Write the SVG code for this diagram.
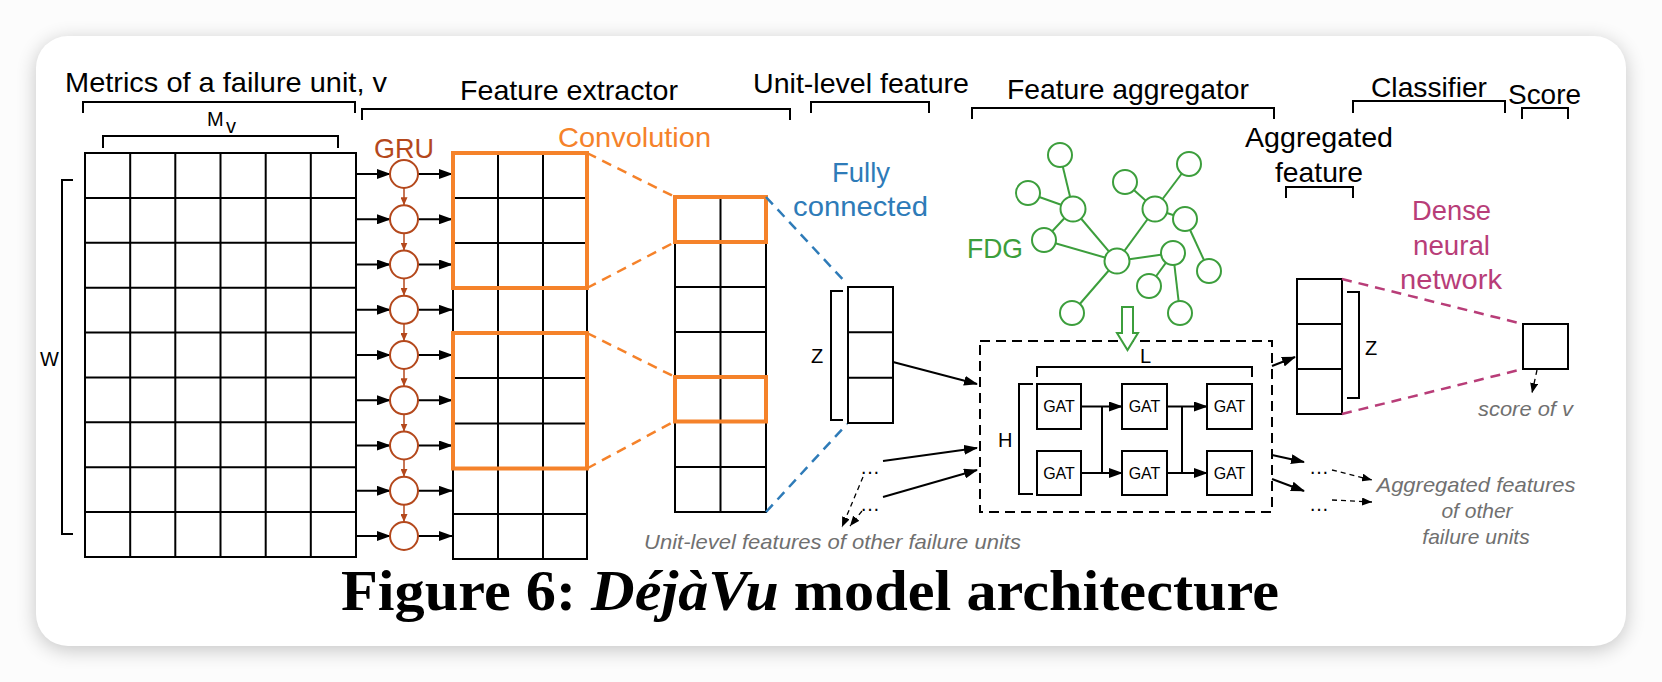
<svg xmlns="http://www.w3.org/2000/svg" width="1662" height="682" viewBox="0 0 1662 682">
<style>
.lbl{font-family:"Liberation Sans",Arial,sans-serif;font-size:28px;fill:#000}
.sm{font-family:"Liberation Sans",Arial,sans-serif;font-size:20px;fill:#000}
.gat{font-family:"Liberation Sans",Arial,sans-serif;font-size:16px;fill:#000;text-anchor:middle}
.note{font-family:"Liberation Sans",Arial,sans-serif;font-size:21px;font-style:italic;fill:#707070}
.cap{font-family:"Liberation Serif","Times New Roman",serif;font-size:57px;font-weight:bold;fill:#000}
.br{fill:none;stroke:#000;stroke-width:2}
.grid{fill:none;stroke:#000;stroke-width:2}
.conn{fill:none;stroke:#000;stroke-width:2}
.gru{fill:#fff;stroke:#b4481c;stroke-width:2}
.fdg{fill:#fff;stroke:#3c9e3c;stroke-width:2}
.fdge{stroke:#3c9e3c;stroke-width:2}
.odash{stroke:#f5822a;stroke-width:2.5;stroke-dasharray:10 7;fill:none}
.bdash{stroke:#2e7bb8;stroke-width:2.5;stroke-dasharray:10 7;fill:none}
.mdash{stroke:#b83d78;stroke-width:2.5;stroke-dasharray:10 7;fill:none}
.kdash{stroke:#000;stroke-width:1.3;stroke-dasharray:5 4;fill:none}
</style>
<defs>
<filter id="sh" x="-5%" y="-10%" width="110%" height="120%">
<feGaussianBlur stdDeviation="10"/>
</filter>
<marker id="ak" markerUnits="userSpaceOnUse" markerWidth="14" markerHeight="10" refX="13" refY="5" orient="auto"><path d="M0,0 L14,5 L0,10 z" fill="#000"/></marker>
<marker id="ab" markerUnits="userSpaceOnUse" markerWidth="8" markerHeight="7" refX="8" refY="3.5" orient="auto"><path d="M0,0 L8,3.5 L0,7 z" fill="#b4481c"/></marker>
<marker id="as" markerUnits="userSpaceOnUse" markerWidth="10" markerHeight="8" refX="10" refY="4" orient="auto"><path d="M0,0 L10,4 L0,8 z" fill="#000"/></marker>
</defs>
<rect x="0" y="0" width="1662" height="682" fill="#fcfcfc"/>
<rect x="36" y="40" width="1590" height="610" rx="32" fill="#000" opacity="0.22" filter="url(#sh)"/>
<rect x="36" y="36" width="1590" height="610" rx="32" fill="#fff"/>

<g id="headers">
<text class="lbl" x="65" y="92" textLength="322" lengthAdjust="spacingAndGlyphs">Metrics of a failure unit, v</text>
<path class="br" d="M83,113 V102 H355 V113"/>
<text class="lbl" x="460" y="100" textLength="218" lengthAdjust="spacingAndGlyphs">Feature extractor</text>
<path class="br" d="M362,120 V109 H790 V120"/>
<text class="lbl" x="753" y="93" textLength="216" lengthAdjust="spacingAndGlyphs">Unit-level feature</text>
<path class="br" d="M811,113 V102 H929 V113"/>
<text class="lbl" x="1007" y="99" textLength="242" lengthAdjust="spacingAndGlyphs">Feature aggregator</text>
<path class="br" d="M972,119 V108 H1274 V119"/>
<text class="lbl" x="1371" y="97" textLength="116" lengthAdjust="spacingAndGlyphs">Classifier</text>
<path class="br" d="M1353,113 V101 H1505 V113"/>
<text class="lbl" x="1508" y="104" textLength="73" lengthAdjust="spacingAndGlyphs">Score</text>
<path class="br" d="M1522,119 V108 H1568 V119"/>
</g>

<g id="metrics">
<text class="sm" x="207" y="126" font-size="21">M</text>
<text class="sm" x="226" y="133" font-size="13">v</text>
<path class="br" d="M103,148 V136 H338 V148"/>
<text class="sm" x="40" y="366">W</text>
<path class="br" d="M73,180 H62 V534 H73"/>
<path class="grid" d="M85,153 H356 V557 H85 Z M130.2,153 V557 M175.3,153 V557 M220.5,153 V557 M265.7,153 V557 M310.8,153 V557 M85,197.9 H356 M85,242.8 H356 M85,287.7 H356 M85,332.6 H356 M85,377.4 H356 M85,422.3 H356 M85,467.2 H356 M85,512.1 H356"/>
</g>

<g id="gru">
<text class="lbl" x="374" y="158" fill="#b4481c" textLength="60" lengthAdjust="spacingAndGlyphs" style="fill:#b4481c">GRU</text>
<g class="conn" marker-end="url(#ak)">
<line x1="356" y1="174" x2="390" y2="174"/>
<line x1="356" y1="219.3" x2="390" y2="219.3"/>
<line x1="356" y1="264.5" x2="390" y2="264.5"/>
<line x1="356" y1="309.8" x2="390" y2="309.8"/>
<line x1="356" y1="355" x2="390" y2="355"/>
<line x1="356" y1="400.3" x2="390" y2="400.3"/>
<line x1="356" y1="445.5" x2="390" y2="445.5"/>
<line x1="356" y1="490.8" x2="390" y2="490.8"/>
<line x1="356" y1="536" x2="390" y2="536"/>
<line x1="418" y1="174" x2="452" y2="174"/>
<line x1="418" y1="219.3" x2="452" y2="219.3"/>
<line x1="418" y1="264.5" x2="452" y2="264.5"/>
<line x1="418" y1="309.8" x2="452" y2="309.8"/>
<line x1="418" y1="355" x2="452" y2="355"/>
<line x1="418" y1="400.3" x2="452" y2="400.3"/>
<line x1="418" y1="445.5" x2="452" y2="445.5"/>
<line x1="418" y1="490.8" x2="452" y2="490.8"/>
<line x1="418" y1="536" x2="452" y2="536"/>
</g>
<g stroke="#b4481c" stroke-width="1.5" marker-end="url(#ab)">
<line x1="404" y1="188" x2="404" y2="205.3"/>
<line x1="404" y1="233.3" x2="404" y2="250.5"/>
<line x1="404" y1="278.5" x2="404" y2="295.8"/>
<line x1="404" y1="323.8" x2="404" y2="341"/>
<line x1="404" y1="369" x2="404" y2="386.3"/>
<line x1="404" y1="414.3" x2="404" y2="431.5"/>
<line x1="404" y1="459.5" x2="404" y2="476.8"/>
<line x1="404" y1="504.8" x2="404" y2="522"/>
</g>
<circle class="gru" cx="404" cy="174" r="14"/>
<circle class="gru" cx="404" cy="219.3" r="14"/>
<circle class="gru" cx="404" cy="264.5" r="14"/>
<circle class="gru" cx="404" cy="309.8" r="14"/>
<circle class="gru" cx="404" cy="355" r="14"/>
<circle class="gru" cx="404" cy="400.3" r="14"/>
<circle class="gru" cx="404" cy="445.5" r="14"/>
<circle class="gru" cx="404" cy="490.8" r="14"/>
<circle class="gru" cx="404" cy="536" r="14"/>
</g>

<g id="convolution">
<text class="lbl" x="558" y="147" textLength="153" lengthAdjust="spacingAndGlyphs" style="fill:#f5822a">Convolution</text>
<path class="grid" d="M453,153 H587 V559 H453 Z M498,153 V559 M543,153 V559 M453,198 H587 M453,243 H587 M453,288 H587 M453,333 H587 M453,378 H587 M453,423.5 H587 M453,468.5 H587 M453,514 H587"/>
<rect x="453" y="153" width="134" height="135" fill="none" stroke="#f5822a" stroke-width="4"/>
<rect x="453" y="333" width="134" height="135.5" fill="none" stroke="#f5822a" stroke-width="4"/>
<line class="odash" x1="587" y1="153" x2="675" y2="197"/>
<line class="odash" x1="587" y1="288" x2="675" y2="242"/>
<line class="odash" x1="587" y1="333" x2="675" y2="377"/>
<line class="odash" x1="587" y1="468.5" x2="675" y2="421"/>
</g>

<g id="conv-output">
<path class="grid" d="M675,197 H766 V512 H675 Z M720.5,197 V512 M675,242 H766 M675,287 H766 M675,332 H766 M675,377 H766 M675,421.5 H766 M675,467 H766"/>
<rect x="675" y="197" width="91" height="45" fill="none" stroke="#f5822a" stroke-width="4"/>
<rect x="675" y="377" width="91" height="44.5" fill="none" stroke="#f5822a" stroke-width="4"/>
</g>

<g id="fully-connected">
<text class="lbl" x="832" y="182" textLength="58" lengthAdjust="spacingAndGlyphs" style="fill:#2e7bb8">Fully</text>
<text class="lbl" x="793" y="216" textLength="135" lengthAdjust="spacingAndGlyphs" style="fill:#2e7bb8">connected</text>
<line class="bdash" x1="766" y1="197" x2="847" y2="284"/>
<line class="bdash" x1="766" y1="512" x2="847" y2="424"/>
</g>

<g id="unit-feature">
<path class="grid" d="M848,287 H893 V423 H848 Z M848,332.3 H893 M848,377.7 H893"/>
<path class="br" d="M843,291 H831 V420 H843"/>
<text class="sm" x="811" y="363">Z</text>
</g>

<g id="fdg">
<text class="lbl" x="967" y="258" font-size="27" textLength="56" lengthAdjust="spacingAndGlyphs" style="fill:#3c9e3c">FDG</text>
<g class="fdge">
<line x1="1060" y1="155" x2="1073" y2="209"/>
<line x1="1028" y1="193" x2="1073" y2="209"/>
<line x1="1044" y1="240" x2="1073" y2="209"/>
<line x1="1073" y1="209" x2="1117" y2="261"/>
<line x1="1044" y1="240" x2="1117" y2="261"/>
<line x1="1117" y1="261" x2="1155" y2="209"/>
<line x1="1125" y1="182" x2="1155" y2="209"/>
<line x1="1189" y1="164" x2="1155" y2="209"/>
<line x1="1155" y1="209" x2="1185" y2="219"/>
<line x1="1185" y1="219" x2="1209" y2="271"/>
<line x1="1117" y1="261" x2="1173" y2="253"/>
<line x1="1173" y1="253" x2="1149" y2="286"/>
<line x1="1173" y1="253" x2="1180" y2="313"/>
<line x1="1117" y1="261" x2="1072" y2="313"/>
</g>
<circle class="fdg" cx="1060" cy="155" r="12"/>
<circle class="fdg" cx="1028" cy="193" r="12"/>
<circle class="fdg" cx="1073" cy="209" r="12.5"/>
<circle class="fdg" cx="1044" cy="240" r="12"/>
<circle class="fdg" cx="1117" cy="261" r="12.5"/>
<circle class="fdg" cx="1125" cy="182" r="12"/>
<circle class="fdg" cx="1189" cy="164" r="12"/>
<circle class="fdg" cx="1155" cy="209" r="12.5"/>
<circle class="fdg" cx="1185" cy="219" r="12"/>
<circle class="fdg" cx="1209" cy="271" r="12"/>
<circle class="fdg" cx="1173" cy="253" r="12"/>
<circle class="fdg" cx="1149" cy="286" r="12"/>
<circle class="fdg" cx="1180" cy="313" r="12"/>
<circle class="fdg" cx="1072" cy="313" r="12"/>
</g>

<g id="aggregator">
<rect x="980" y="341" width="292" height="171" fill="none" stroke="#000" stroke-width="2" stroke-dasharray="10 6"/>
<polygon points="1122,307 1133,307 1133,333 1138,333 1127.5,350 1117,333 1122,333" fill="#fff" stroke="#3c9e3c" stroke-width="2"/>
<text class="sm" x="1140" y="363">L</text>
<path class="br" d="M1037,377 V367 H1252 V377"/>
<text class="sm" x="998" y="447">H</text>
<path class="br" d="M1033,384 H1019 V494 H1033"/>
</g>

<g id="gat-1-1"><rect class="grid" x="1037" y="384" width="44" height="45"/><text class="gat" x="1059" y="412">GAT</text></g>
<g id="gat-1-2"><rect class="grid" x="1122" y="384" width="45" height="45"/><text class="gat" x="1144.5" y="412">GAT</text></g>
<g id="gat-1-3"><rect class="grid" x="1207" y="384" width="45" height="45"/><text class="gat" x="1229.5" y="412">GAT</text></g>
<g id="gat-2-1"><rect class="grid" x="1037" y="451" width="44" height="44"/><text class="gat" x="1059" y="479">GAT</text></g>
<g id="gat-2-2"><rect class="grid" x="1122" y="451" width="45" height="44"/><text class="gat" x="1144.5" y="479">GAT</text></g>
<g id="gat-2-3"><rect class="grid" x="1207" y="451" width="45" height="44"/><text class="gat" x="1229.5" y="479">GAT</text></g>

<g id="aggregated-feature">
<text class="lbl" x="1245" y="147" textLength="148" lengthAdjust="spacingAndGlyphs">Aggregated</text>
<text class="lbl" x="1275" y="182" textLength="88" lengthAdjust="spacingAndGlyphs">feature</text>
<path class="br" d="M1286,198 V187 H1353 V198"/>
<path class="grid" d="M1297,279 H1342 V414 H1297 Z M1297,324 H1342 M1297,369 H1342"/>
<path class="br" d="M1347,292 H1359 V398 H1347"/>
<text class="sm" x="1365" y="355">Z</text>
</g>

<g id="dense">
<text class="lbl" x="1412" y="220" textLength="79" lengthAdjust="spacingAndGlyphs" style="fill:#b83d78">Dense</text>
<text class="lbl" x="1413" y="255" textLength="77" lengthAdjust="spacingAndGlyphs" style="fill:#b83d78">neural</text>
<text class="lbl" x="1400" y="289" textLength="102" lengthAdjust="spacingAndGlyphs" style="fill:#b83d78">network</text>
<line class="mdash" x1="1342" y1="279" x2="1523" y2="324"/>
<line class="mdash" x1="1342" y1="414" x2="1523" y2="369"/>
</g>

<g id="score">
<rect class="grid" x="1523" y="324" width="45" height="45"/>
<text class="note" x="1478" y="416" textLength="95" lengthAdjust="spacingAndGlyphs">score of v</text>
</g>

<g id="others">
<text class="sm" x="860" y="474" font-size="21">…</text>
<text class="sm" x="860" y="511" font-size="21">…</text>
<text class="note" x="644" y="549" textLength="377" lengthAdjust="spacingAndGlyphs">Unit-level features of other failure units</text>
<text class="sm" x="1309" y="474" font-size="21">…</text>
<text class="sm" x="1309" y="511" font-size="21">…</text>
<text class="note" x="1476" y="492" text-anchor="middle" textLength="199" lengthAdjust="spacingAndGlyphs">Aggregated features</text>
<text class="note" x="1477" y="518" text-anchor="middle">of other</text>
<text class="note" x="1476" y="544" text-anchor="middle">failure units</text>
</g>

<g id="connectors">
<g class="conn" marker-end="url(#ak)">
<line x1="893" y1="362" x2="977" y2="384"/>
<line x1="883" y1="461" x2="977" y2="448"/>
<line x1="883" y1="497" x2="977" y2="470"/>
<line x1="1081" y1="406.5" x2="1122" y2="406.5"/>
<line x1="1081" y1="473" x2="1122" y2="473"/>
<line x1="1167" y1="406.5" x2="1207" y2="406.5"/>
<line x1="1167" y1="473" x2="1207" y2="473"/>
<line x1="1272" y1="366" x2="1295" y2="357"/>
<line x1="1272" y1="455" x2="1304" y2="462"/>
<line x1="1272" y1="479" x2="1304" y2="491"/>
</g>
<line class="conn" x1="1102" y1="406.5" x2="1102" y2="473"/>
<line class="conn" x1="1182" y1="406.5" x2="1182" y2="473"/>
<g class="kdash" marker-end="url(#as)">
<line x1="863" y1="477" x2="842" y2="527"/>
<line x1="862" y1="511" x2="850" y2="526"/>
<line x1="1332" y1="470" x2="1372" y2="480"/>
<line x1="1332" y1="500" x2="1372" y2="502"/>
<line x1="1537" y1="370" x2="1532" y2="393"/>
</g>
</g>

<text class="cap" x="341" y="610" textLength="938" lengthAdjust="spacingAndGlyphs">Figure 6: <tspan font-style="italic">DéjàVu</tspan> model architecture</text>
</svg>
